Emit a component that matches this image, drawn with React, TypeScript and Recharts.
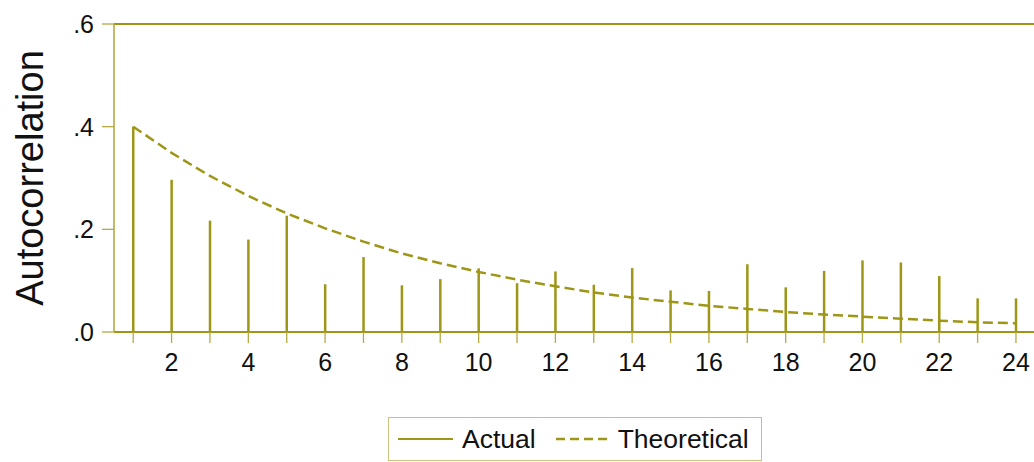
import React from 'react';
import { ComposedChart, Bar, Line, XAxis, YAxis, ReferenceLine, Legend } from 'recharts';

const lags = [1, 2, 3, 4, 5, 6, 7, 8, 9, 10, 11, 12, 13, 14, 15, 16, 17, 18, 19, 20, 21, 22, 23, 24];
const actual = [0.4, 0.2965, 0.217, 0.18, 0.2265, 0.093, 0.146, 0.091, 0.103, 0.124, 0.095, 0.118, 0.092, 0.1245, 0.081, 0.08, 0.132, 0.087, 0.119, 0.1395, 0.1355, 0.109, 0.0655, 0.0655];
const theoretical = [0.4, 0.349, 0.304, 0.265, 0.231, 0.202, 0.176, 0.153, 0.134, 0.117, 0.102, 0.089, 0.077, 0.067, 0.059, 0.051, 0.045, 0.039, 0.034, 0.03, 0.026, 0.022, 0.019, 0.017];
const xTicks = [1, 2, 3, 4, 5, 6, 7, 8, 9, 10, 11, 12, 13, 14, 15, 16, 17, 18, 19, 20, 21, 22, 23, 24];
const yTicks = [0, 0.2, 0.4, 0.6];
const seriesNames = ['Actual', 'Theoretical'];

const data = lags.map((lag, i) => ({ lag, actual: actual[i], theoretical: theoretical[i] }));

const OLIVE = '#9d9616';
const OLIVE_LIGHT = '#b3ab45';
const FONT = '"Liberation Sans", Arial, Helvetica, sans-serif';

const YLabel = (props: any) => {
  const vb = props.viewBox || { x: 0, y: 24, width: 114, height: 308 };
  const x = vb.x + 30;
  const y = vb.y + vb.height / 2;
  return (
    <text
      x={x}
      y={y}
      transform={`rotate(-90, ${x}, ${y})`}
      textAnchor="middle"
      dy="0.355em"
      fontSize={38}
      fontFamily={FONT}
      fill="#111"
    >
      Autocorrelation
    </text>
  );
};

const LegendBox = () => (
  <div
    style={{
      boxSizing: 'border-box',
      width: 374,
      height: 44,
      border: '1px solid #c9c27e',
      display: 'flex',
      alignItems: 'center',
      paddingLeft: 9,
      fontFamily: FONT,
      fontSize: 26.5,
      color: '#111',
      background: '#fff',
      whiteSpace: 'nowrap',
    }}
  >
    <svg width={55} height={6} style={{ display: 'block' }}>
      <line x1={0} x2={55} y1={3} y2={3} stroke={OLIVE} strokeWidth={2.2} />
    </svg>
    <span style={{ marginLeft: 9, lineHeight: '28px' }}>{seriesNames[0]}</span>
    <svg width={51} height={6} style={{ display: 'block', marginLeft: 20 }}>
      <line x1={0} x2={51} y1={3} y2={3} stroke={OLIVE} strokeWidth={2.5} strokeDasharray="9 5" />
    </svg>
    <span style={{ marginLeft: 11, lineHeight: '28px' }}>{seriesNames[1]}</span>
  </div>
);

export default function App() {
  return (
    <div style={{ position: 'fixed', left: 0, top: 0, width: 1034, height: 462, overflow: 'hidden', background: '#fff' }}>
      <ComposedChart width={1034} height={462} data={data} margin={{ top: 24, right: 0, bottom: 90, left: 0 }}>
        <XAxis
          dataKey="lag"
          type="number"
          domain={[0.5, 24.47]}
          ticks={xTicks}
          interval={0}
          tickFormatter={(v: number) => (v % 2 === 0 ? String(v) : '')}
          height={40}
          tickSize={11}
          tickMargin={10}
          axisLine={{ stroke: OLIVE, strokeWidth: 2 }}
          tickLine={{ stroke: OLIVE_LIGHT, strokeWidth: 1.3 }}
          tick={{ fill: '#111', fontSize: 25, fontFamily: FONT }}
          allowDataOverflow
        />
        <YAxis
          type="number"
          domain={[0, 0.6]}
          ticks={yTicks}
          interval={0}
          width={114}
          tickSize={12}
          tickMargin={8}
          tickFormatter={(v: number) => '.' + String(Math.round(v * 10))}
          axisLine={{ stroke: OLIVE_LIGHT, strokeWidth: 1.6 }}
          tickLine={{ stroke: OLIVE_LIGHT, strokeWidth: 1.3 }}
          tick={{ fill: '#111', fontSize: 25, fontFamily: FONT }}
          label={{ content: (p: any) => <YLabel {...p} /> }}
          allowDataOverflow
        />
        <ReferenceLine y={0.6} stroke={OLIVE} strokeWidth={2} />
        <Bar dataKey="actual" name={seriesNames[0]} fill={OLIVE} barSize={2.5} isAnimationActive={false} />
        <Line
          dataKey="theoretical"
          name={seriesNames[1]}
          type="linear"
          stroke={OLIVE}
          strokeWidth={2.5}
          strokeDasharray="10 5"
          dot={false}
          activeDot={false}
          isAnimationActive={false}
        />
        <Legend
          layout="horizontal"
          verticalAlign="middle"
          align="center"
          wrapperStyle={{ left: 388, top: 417, width: 374, height: 44 }}
          content={() => <LegendBox />}
        />
      </ComposedChart>
    </div>
  );
}
